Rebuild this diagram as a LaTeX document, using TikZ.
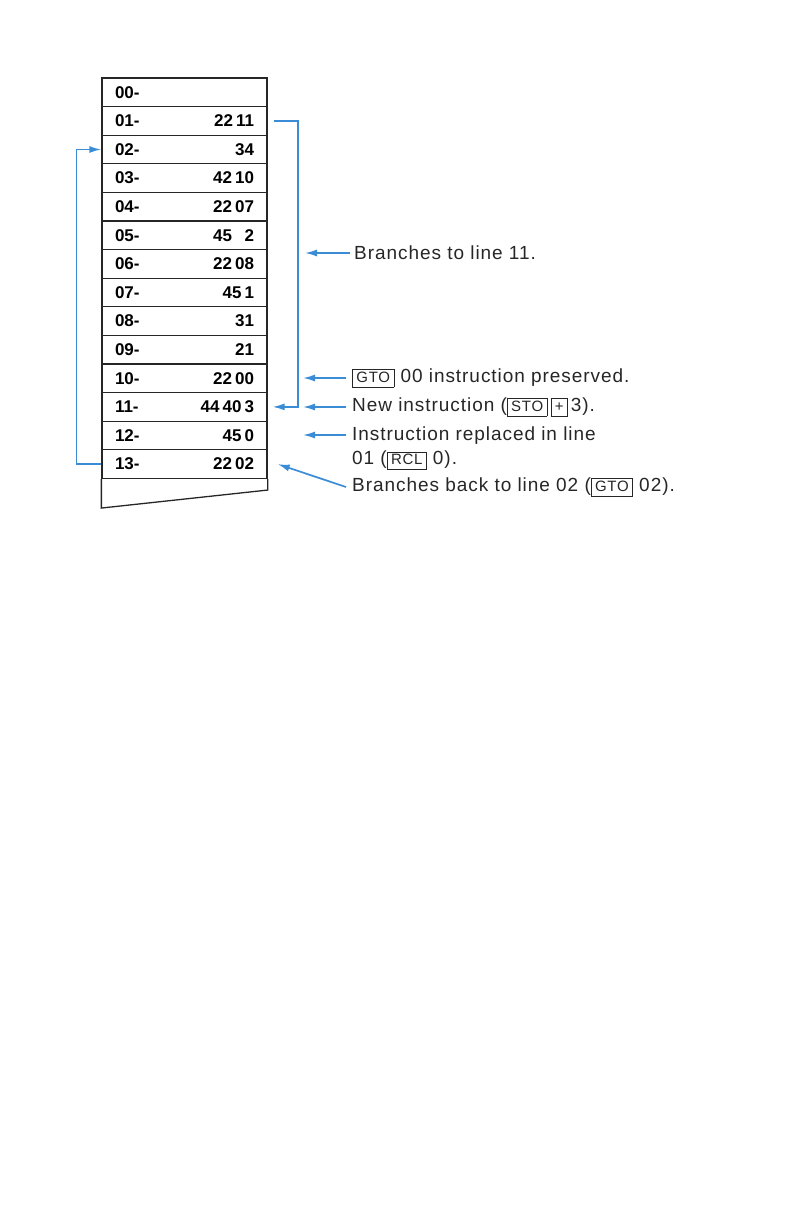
\documentclass[tikz,border=0pt]{standalone}
\usepackage{fontspec}
\setmainfont{Liberation Sans}
\newfontfamily\notefont[LetterSpace=5]{Liberation Sans}
\usepackage{tikz}
\usetikzlibrary{calc,arrows.meta}
\definecolor{hpblue}{RGB}{58,140,215}
\newcommand{\keycap}[1]{{\setlength{\fboxsep}{1pt}\setlength{\fboxrule}{0.7pt}\fbox{\kern2.5pt\fontsize{15}{15}\selectfont\rule[-3.5pt]{0pt}{15pt}#1\kern2.5pt}}}
\newcommand{\gap}{\hspace{0.18em}}

\begin{document}
\begin{tikzpicture}[
x=1pt, y=1pt,
row/.style={rectangle, draw=black!85, line width=1.3pt, minimum width=165pt,
minimum height=28.6pt, text width=139pt, inner xsep=13pt, inner ysep=0pt,
font=\fontsize{17}{17}\selectfont\bfseries},
link/.style={draw=hpblue, line width=1.7pt, -{Latex[length=12pt,width=7pt]}},
note/.style={anchor=west, font=\notefont\fontsize{19}{24}\selectfont, text=black!85, inner sep=0pt},
]
	\useasboundingbox (0,0) rectangle (792,-1224);
	% program memory
	\node[row] (r00) at (184.5,-92.3) {00-\hfill};
	\node[row] (r01) at ($ (r00) + (0,-28.6) $) {01-\hfill 22\gap11};
	\node[row] (r02) at ($ (r01) + (0,-28.6) $) {02-\hfill 34};
	\node[row] (r03) at ($ (r02) + (0,-28.6) $) {03-\hfill 42\gap10};
	\node[row] (r04) at ($ (r03) + (0,-28.6) $) {04-\hfill 22\gap07};
	\node[row] (r05) at ($ (r04) + (0,-28.6) $) {05-\hfill 45\gap\phantom{0}2};
	\node[row] (r06) at ($ (r05) + (0,-28.6) $) {06-\hfill 22\gap08};
	\node[row] (r07) at ($ (r06) + (0,-28.6) $) {07-\hfill 45\gap1};
	\node[row] (r08) at ($ (r07) + (0,-28.6) $) {08-\hfill 31};
	\node[row] (r09) at ($ (r08) + (0,-28.6) $) {09-\hfill 21};
	\node[row] (r10) at ($ (r09) + (0,-28.6) $) {10-\hfill 22\gap00};
	\node[row] (r11) at ($ (r10) + (0,-28.6) $) {11-\hfill 44\gap40\gap3};
	\node[row] (r12) at ($ (r11) + (0,-28.6) $) {12-\hfill 45\gap0};
	\node[row] (r13) at ($ (r12) + (0,-28.6) $) {13-\hfill 22\gap02};
	\draw[line width=1.3pt, black!85] (r13.south east) -- ++(0,-11)
	-- ($ (r13.south west) + (0,-29) $) -- (r13.south west);

	% branches
	\draw[link] ([xshift=6pt]r01.east) -- ++(24,0) |- ([xshift=5pt]r11.east);
	\draw[link] (r13.west) -- ++(-25,0) |- (r02.west);

	% notes
	\node[note] (n05) at (354,-253) {Branches to line 11.};
	\node[note] (n10) at (352,-378) {\keycap{GTO} 00 instruction preserved.};
	\node[note] (n11) at (352,-407) {New instruction (\keycap{STO}\,\keycap{+}\,3).};
	\node[note, anchor=north west, align=left] (n12) at (352,-427)
	{Instruction replaced in line\\01 (\keycap{RCL} 0).};
	\node[note] (n13) at (352,-487) {Branches back to line 02 (\keycap{GTO} 02).};
	\draw[link] ([xshift=-4pt]n05.west) -- ++(-45,0);
	\draw[link] ([xshift=-6pt]n10.west) -- ++(-43,0);
	\draw[link] ([xshift=-6pt]n11.west) -- ++(-43,0);
	\draw[link] ([shift={(-6pt,-8pt)}]n12.north west) -- ++(-43,0);
	\draw[link] ([xshift=-6pt]n13.west) -- ([xshift=10pt]r13.east);
\end{tikzpicture}
\end{document}
